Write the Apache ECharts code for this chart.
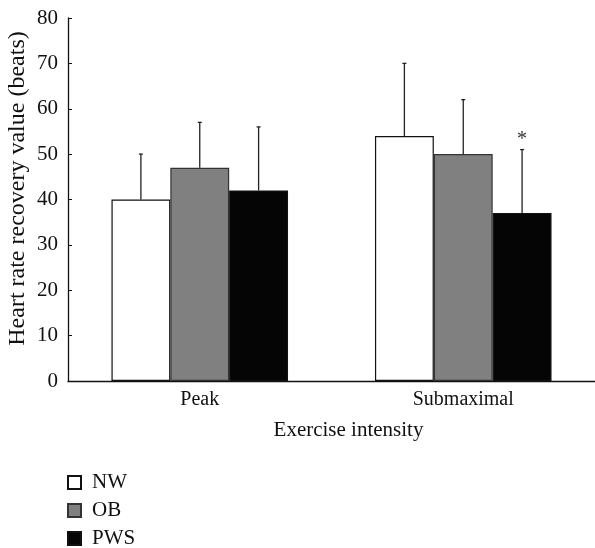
<!DOCTYPE html>
<html>
<head>
<meta charset="utf-8">
<script src="https://cdn.jsdelivr.net/npm/echarts@6/dist/echarts.min.js"></script>
<style>html,body{margin:0;padding:0;background:#fff}#c{width:595px;height:548px}</style>
</head>
<body>
<div id="c"></div>
<script>
const categories = ['Peak', 'Submaximal'];
const groups = ['NW', 'OB', 'PWS'];
const meanNW = [40, 54];
const meanOB = [47, 50];
const meanPWS = [42, 37];
const upperNW = [50, 70];
const upperOB = [57, 62];
const upperPWS = [56, 51];
const sigPWS = ['', '*'];
const yTicks = [0, 10, 20, 30, 40, 50, 60, 70, 80];

const means = [meanNW, meanOB, meanPWS];
const uppers = [upperNW, upperOB, upperPWS];
const sigs = [['', ''], ['', ''], sigPWS];
const colors = ['#ffffff', '#808080', '#050505'];
const borders = ['#111', '#333', '#111'];
const font = '"Liberation Serif", "DejaVu Serif", serif';
const gapRatio = 0.33;

const series = [];
groups.forEach((g, k) => {
  series.push({
    name: g, type: 'bar', data: means[k],
    barGap: '0%', barCategoryGap: (gapRatio * 100) + '%',
    itemStyle: { color: colors[k], borderColor: borders[k], borderWidth: 1.2 },
    z: 2
  });
});
groups.forEach((g, k) => {
  series.push({
    type: 'custom', name: g + ' err', z: 3,
    data: categories.map((c, i) => [i, means[k][i], uppers[k][i], sigs[k][i]]),
    encode: { x: 0, y: [1, 2] },
    renderItem: function (params, api) {
      const i = api.value(0);
      const base = api.coord([i, 0]);
      const band = api.size([1, 0])[0];
      const barW = band * (1 - gapRatio) / 3;
      const xc = base[0] + (k - 1) * barW;
      const y1 = api.coord([i, api.value(1)])[1];
      const y2 = api.coord([i, api.value(2)])[1];
      const children = [
        { type: 'line', shape: { x1: xc, y1: y1, x2: xc, y2: y2 }, style: { stroke: '#222', lineWidth: 1.3 } },
        { type: 'line', shape: { x1: xc - 2, y1: y2, x2: xc + 2, y2: y2 }, style: { stroke: '#222', lineWidth: 1.3 } }
      ];
      const s = sigs[k][i];
      if (s) {
        children.push({ type: 'text', style: { text: s, x: xc, y: y2, align: 'center', verticalAlign: 'bottom', font: '20px ' + font, fill: '#333' } });
      }
      return { type: 'group', children: children };
    }
  });
});

const chart = echarts.init(document.getElementById('c'));
chart.setOption({
  animation: false,
  backgroundColor: '#fff',
  textStyle: { fontFamily: font },
  grid: { left: 68, right: 0, top: 18, bottom: 167, containLabel: false, outerBoundsMode: 'none' },
  legend: {
    orient: 'vertical', left: 67, top: 472, itemWidth: 13, itemHeight: 13, itemGap: 7,
    padding: 0, height: 80,
    icon: 'rect', data: groups,
    textStyle: { fontFamily: font, fontSize: 21, color: '#111', padding: [0, 0, 0, 6] }
  },
  xAxis: {
    type: 'category', data: categories,
    name: 'Exercise intensity', nameLocation: 'middle', nameGap: 39, nameMoveOverlap: false,
    nameTextStyle: { fontFamily: font, fontSize: 21, color: '#111', padding: [0, 0, 0, 34] },
    axisLine: { lineStyle: { color: '#111', width: 1.3 } },
    axisTick: { inside: true, length: 4, lineStyle: { color: '#111' } },
    axisLabel: { fontFamily: font, fontSize: 20, color: '#111', margin: 9 }
  },
  yAxis: {
    type: 'value', min: yTicks[0], max: yTicks[yTicks.length - 1], interval: 10,
    name: 'Heart rate recovery value (beats)', nameLocation: 'middle', nameGap: 38, nameMoveOverlap: false,
    nameTextStyle: { fontFamily: font, fontSize: 24, color: '#111', padding: [0, 0, 0, 22] },
    axisLine: { show: true, lineStyle: { color: '#111', width: 1.3 } },
    axisTick: { show: true, inside: true, length: 4, lineStyle: { color: '#111' } },
    splitLine: { show: false },
    axisLabel: { fontFamily: font, fontSize: 21, color: '#111', margin: 10 }
  },
  series: series
});
</script>
</body>
</html>
